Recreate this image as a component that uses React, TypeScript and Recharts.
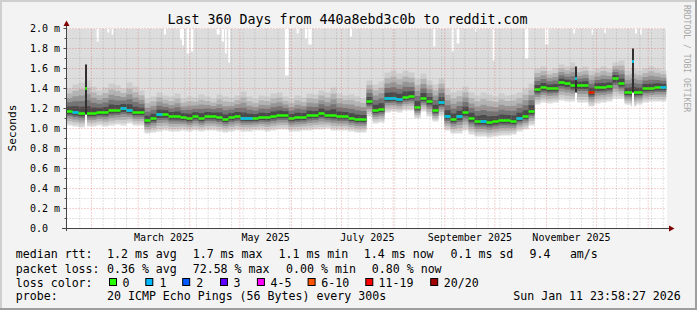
import { Area, ComposedChart, ReferenceLine, XAxis, YAxis } from "recharts";

const FONT = '"DejaVu Sans Mono", monospace';

// one sample every 3.6 days -> 100 samples = 360 days (17 Jan 2025 .. 11 Jan 2026)
const STEP_DAYS = 3.6;

// median rtt per sample (ms)
const medianRtt = [
  1.17, 1.16, 1.15, 1.15, 1.15, 1.16, 1.16, 1.18, 1.18, 1.2,
  1.18, 1.16, 1.16, 1.08, 1.1, 1.14, 1.14, 1.12, 1.12, 1.11,
  1.1, 1.12, 1.1, 1.12, 1.12, 1.11, 1.09, 1.11, 1.12, 1.1,
  1.1, 1.1, 1.11, 1.11, 1.12, 1.13, 1.13, 1.1, 1.11, 1.11,
  1.13, 1.13, 1.15, 1.13, 1.13, 1.12, 1.12, 1.1, 1.09, 1.09,
  1.27, 1.18, 1.19, 1.3, 1.3, 1.29, 1.31, 1.32, 1.21, 1.3,
  1.27, 1.18, 1.26, 1.12, 1.09, 1.12, 1.16, 1.1, 1.07, 1.07,
  1.06, 1.07, 1.08, 1.08, 1.07, 1.1, 1.12, 1.17, 1.39, 1.41,
  1.4, 1.4, 1.46, 1.45, 1.43, 1.43, 1.43, 1.36, 1.41, 1.41,
  1.42, 1.5, 1.45, 1.36, 1.36, 1.36, 1.4, 1.4, 1.41, 1.41,
];

// lower edge of the smoke (fastest ping)
const smokeLow = [
  1.03, 1.02, 1.01, 1.02, 1.02, 1.03, 1.02, 1.03, 1.04, 1.03,
  1.05, 1.03, 1.03, 0.95, 0.96, 0.97, 0.98, 0.97, 0.97, 0.98,
  0.97, 0.98, 0.97, 0.98, 0.98, 0.97, 0.96, 0.97, 0.98, 0.97,
  0.97, 0.98, 0.98, 0.97, 0.98, 0.99, 0.99, 0.97, 0.97, 0.98,
  0.98, 0.99, 0.99, 1.0, 0.98, 0.98, 0.98, 0.97, 0.96, 0.96,
  1.12, 1.05, 1.06, 1.16, 1.17, 1.16, 1.18, 1.18, 1.1, 1.17,
  1.12, 1.07, 1.12, 0.98, 0.95, 0.95, 0.98, 0.94, 0.92, 0.92,
  0.91, 0.92, 0.93, 0.93, 0.94, 0.97, 0.99, 1.03, 1.24, 1.26,
  1.25, 1.26, 1.28, 1.27, 1.27, 1.26, 1.26, 1.22, 1.25, 1.26,
  1.27, 1.3, 1.3, 1.24, 1.22, 1.24, 1.26, 1.27, 1.27, 1.27,
];

// upper edge of the dense smoke
const smokeHigh = [
  1.4, 1.44, 1.46, 1.48, 1.42, 1.38, 1.41, 1.45, 1.43, 1.4,
  1.46, 1.42, 1.38, 1.3, 1.32, 1.36, 1.33, 1.32, 1.35, 1.3,
  1.32, 1.31, 1.34, 1.32, 1.3, 1.34, 1.32, 1.31, 1.33, 1.37,
  1.32, 1.3, 1.33, 1.32, 1.35, 1.36, 1.32, 1.3, 1.33, 1.31,
  1.35, 1.34, 1.38, 1.36, 1.41, 1.35, 1.33, 1.34, 1.32, 1.3,
  1.48, 1.44, 1.47, 1.56, 1.58, 1.55, 1.58, 1.56, 1.5, 1.55,
  1.48, 1.44, 1.5, 1.4, 1.36, 1.38, 1.42, 1.36, 1.33, 1.36,
  1.34, 1.32, 1.35, 1.33, 1.34, 1.36, 1.4, 1.45, 1.6, 1.62,
  1.58, 1.6, 1.64, 1.62, 1.66, 1.6, 1.62, 1.58, 1.6, 1.62,
  1.6, 1.66, 1.68, 1.58, 1.6, 1.58, 1.6, 1.62, 1.6, 1.58,
];

// [sample index, loss level] for samples that lost packets
const lossMarks = [
  [1, 1], [9, 1], [10, 1], [15, 1], [29, 1], [30, 1], [53, 1], [54, 1],
  [55, 1], [62, 1], [63, 1], [65, 1], [69, 1], [75, 1], [87, 6], [99, 1],
];

// short single-sample spikes
const spikes = [
  { day: 11.1, med: 1.4, lo: 1.14, hi: 1.64, loss: 0 },
  { day: 305.1, med: 1.5, lo: 1.36, hi: 1.62, loss: 1 },
  { day: 339.3, med: 1.67, lo: 1.36, hi: 1.8, loss: 1 },
];
const SPIKE_DAYS = 1.2;

// [from day, to day, max ping] where the slowest ping stayed below 2 ms
const maxGaps = [
  [18.1, 19.3, 1.87], [24.5, 25.7, 1.96], [27.1, 28.1, 1.94], [58.5, 59.7, 1.94],
  [68.1, 69.3, 1.89], [69.3, 70.5, 1.83], [72.1, 73.7, 1.75], [74.5, 76.1, 1.77],
  [90.1, 92.1, 1.94], [93.1, 94.5, 1.87], [95.1, 96.1, 1.75], [97.1, 98.1, 1.66],
  [131.1, 133.3, 1.53], [138.1, 139.3, 1.95], [143.1, 144.5, 1.9], [145.1, 147.1, 1.84],
  [170.1, 171.3, 1.92], [220.1, 221.3, 1.82], [231.1, 232.5, 1.77], [234.1, 235.7, 1.85],
  [245.1, 246.1, 1.97], [255.7, 256.9, 1.68], [275.1, 277.1, 1.7], [287.1, 289.1, 1.84],
  [304.1, 305.1, 1.95], [315.1, 316.1, 1.94], [322.5, 323.7, 1.95], [341.1, 342.3, 1.95],
  [344.1, 345.1, 1.94],
];

// days since 17 Jan 2025
const monthStarts = [15, 43, 74, 104, 135, 165, 196, 227, 257, 288, 318, 349];
const monthLabelDays = [58.5, 119.5, 180.5, 242, 303];
const monthLabels = ["March 2025", "May 2025", "July 2025", "September 2025", "November 2025"];

const lossColors = ["#26ff00", "#00b8ff", "#0059ff", "#5e00ff", "#ff00ff", "#ff5500", "#ff0000", "#a10000"];
const lossNames = ["0", "1", "2", "3", "4-5", "6-10", "11-19", "20/20"];

const rttStats = ["1.2 ms avg", "1.7 ms max", "1.1 ms min", "1.4 ms now", "0.1 ms sd", "9.4", "am/s"];
const lossStats = ["0.36 % avg", "72.58 % max", "0.00 % min", "0.80 % now"];

const TOP = 2.0;
const HALF_LINE = 0.0125; // median drawn as a thin stripe, no vertical joins
const FU = [1, 0.78, 0.58, 0.4, 0.22];
const FD = [0.85, 0.68, 0.5, 0.33, 0.2];
const SMOKE = ["#cdcdcd", "#b4b4b4", "#969696", "#747474", "#4a4a4a"];

function buildRows() {
  const n = medianRtt.length;
  const eps = 1e-6;
  const lossAt = medianRtt.map(() => 0);
  lossMarks.forEach(([i, l]) => (lossAt[i] = l));

  const set = new Set<number>();
  for (let i = 0; i <= n; i++) set.add(Math.round(i * STEP_DAYS * 1000) / 1000);
  spikes.forEach((s) => {
    set.add(s.day);
    set.add(Math.round((s.day + SPIKE_DAYS) * 1000) / 1000);
  });
  maxGaps.forEach(([a, b]) => {
    set.add(a);
    set.add(b);
  });
  const days = Array.from(set).sort((a, b) => a - b);

  const rows = days.map((day) => {
    const i = Math.min(n - 1, Math.floor(day / STEP_DAYS + eps));
    let med = medianRtt[i];
    let lo = smokeLow[i];
    let hi = smokeHigh[i];
    let loss = lossAt[i];
    const row: Record<string, any> = { day };
    const sp = spikes.find((s) => day >= s.day - eps && day <= s.day + SPIKE_DAYS + eps);
    if (sp) {
      row.core = [sp.lo, sp.hi];
      if (day < sp.day + SPIKE_DAYS - eps) {
        med = sp.med;
        lo = sp.lo;
        hi = sp.hi;
        loss = sp.loss;
      }
    }
    const gap = maxGaps.find(([a, b]) => day >= a - eps && day < b - eps);
    row.b0 = [lo, gap ? gap[2] : TOP];
    FU.forEach((fu, k) => {
      row[`b${k + 1}`] = [med - FD[k] * (med - lo), med + fu * (hi - med)];
    });
    row.med = [med - HALF_LINE, med + HALF_LINE];
    row.loss = loss;
    return row;
  });

  rows.forEach((r, k) => {
    if (r.loss > 0) {
      r[`c${r.loss}`] = r.med;
      const nx = rows[k + 1];
      if (nx && nx.loss !== r.loss) nx[`c${r.loss}`] = r.med;
    }
  });
  return rows;
}

const rows = buildRows();

const weekDays: number[] = [];
for (let d = 8; d < 360; d += 7) if (!monthStarts.includes(d)) weekDays.push(d);
const yMinor = [0.1, 0.3, 0.5, 0.7, 0.9, 1.1, 1.3, 1.5, 1.7, 1.9];
const yMajor = [0.2, 0.4, 0.6, 0.8, 1.0, 1.2, 1.4, 1.6, 1.8, 2.0];
const yTicks = [0, 0.1, 0.2, 0.3, 0.4, 0.5, 0.6, 0.7, 0.8, 0.9, 1, 1.1, 1.2, 1.3, 1.4, 1.5, 1.6, 1.7, 1.8, 1.9, 2];

function XTick({ x, y, payload }: any) {
  const idx = monthLabelDays.indexOf(payload.value);
  return (
    <text x={x} y={y + 12.5} textAnchor="middle" fontFamily={FONT} fontSize={10} fill="#000">
      {monthLabels[idx]}
    </text>
  );
}

function YTick({ x, y, payload }: any) {
  const tenth = Math.round(payload.value * 10);
  const major = tenth % 2 === 0;
  return (
    <g>
      <line x1={x - (major ? 3 : 2)} x2={x} y1={y} y2={y} stroke="#555" />
      {major && (
        <text x={30} y={y + 3.8} fontFamily={FONT} fontSize={10} fill="#000">
          {tenth === 0 ? "0.0" : `${(tenth / 10).toFixed(1)} m`}
        </text>
      )}
    </g>
  );
}

const areaProps = {
  type: "stepAfter" as const,
  stroke: "none",
  fillOpacity: 1,
  dot: false,
  activeDot: false,
  connectNulls: false,
  isAnimationActive: false,
};

const minorGrid = { stroke: "#8f8f8f", strokeOpacity: 0.5, strokeDasharray: "1 2" };
const majorGrid = { stroke: "#de5050", strokeOpacity: 0.5, strokeDasharray: "1 2" };

export default function App() {
  const txt = { fontFamily: FONT, fontSize: 11.6, fill: "#000" };
  const rttX = [107, 192.7, 278.5, 363.8, 450.5, 529.6, 569.9];
  const lossX = [107, 192.7, 286.1, 371.8];
  const boxX = [109, 145.3, 182.2, 220, 256.9, 307.6, 365.3, 430.2];
  const nameX = [122.5, 159.4, 196.3, 233.6, 270.5, 321.2, 378.5, 443.8];

  return (
    <div style={{ position: "absolute", left: 0, top: 0, width: 697, height: 310, background: "#f3f3f3" }}>
      <div style={{ position: "absolute", left: 66, top: 28, width: 601, height: 201, background: "#fff" }} />
      <div style={{ position: "absolute", left: 0, top: 0 }}>
        <ComposedChart
          width={697}
          height={310}
          data={rows}
          margin={{ top: 28.5, right: 30.5, bottom: 0, left: 0 }}
        >
          <XAxis
            type="number"
            dataKey="day"
            domain={[0, 360]}
            ticks={monthLabelDays}
            tick={<XTick />}
            interval={0}
            axisLine={false}
            tickLine={false}
            tickSize={0}
            tickMargin={0}
            height={81.5}
            allowDataOverflow
          />
          <YAxis
            type="number"
            domain={[0, 2]}
            ticks={yTicks}
            tick={<YTick />}
            interval={0}
            axisLine={false}
            tickLine={false}
            tickSize={0}
            tickMargin={0}
            width={66.5}
            allowDataOverflow
          />
          <Area dataKey="b0" fill="#dddddd" {...areaProps} />
          {SMOKE.map((c, k) => (
            <Area key={c} dataKey={`b${k + 1}`} fill={c} {...areaProps} />
          ))}
          <Area dataKey="core" fill="#303030" {...areaProps} />
          {weekDays.map((d) => (
            <ReferenceLine key={`w${d}`} x={d} {...minorGrid} />
          ))}
          {yMinor.map((v) => (
            <ReferenceLine key={`ym${v}`} y={v} {...minorGrid} />
          ))}
          {monthStarts.map((d) => (
            <ReferenceLine key={`m${d}`} x={d} {...majorGrid} />
          ))}
          {yMajor.map((v) => (
            <ReferenceLine key={`yM${v}`} y={v} {...majorGrid} />
          ))}
          <Area dataKey="med" fill={lossColors[0]} {...areaProps} />
          {lossColors.slice(1).map((c, k) => (
            <Area key={c} dataKey={`c${k + 1}`} fill={c} {...areaProps} />
          ))}
        </ComposedChart>
      </div>
      <svg
        width={697}
        height={310}
        style={{ position: "absolute", left: 0, top: 0, pointerEvents: "none" }}
      >
        <line x1={0} y1={1} x2={697} y2={1} stroke="#cfcfcf" strokeWidth={2} />
        <line x1={1} y1={0} x2={1} y2={310} stroke="#cfcfcf" strokeWidth={2} />
        <line x1={0} y1={309} x2={697} y2={309} stroke="#9e9e9e" strokeWidth={2} />
        <line x1={696} y1={0} x2={696} y2={310} stroke="#9e9e9e" strokeWidth={2} />

        <line x1={66.5} y1={25} x2={66.5} y2={231} stroke="#444" />
        <line x1={62} y1={228.5} x2={670} y2={228.5} stroke="#444" />
        <polygon points="63.5,26 69.5,26 66.5,20.5" fill="#7f0000" />
        <polygon points="669,225.5 669,231.5 674.5,228.5" fill="#7f0000" />

        <text x={347.5} y={24} textAnchor="middle" fontFamily={FONT} fontSize={13.3} fill="#000">
          Last 360 Days from 440a8ebd3c0b to reddit.com
        </text>
        <text
          transform="translate(15.5,128) rotate(-90)"
          textAnchor="middle"
          fontFamily={FONT}
          fontSize={11.2}
          fill="#000"
        >
          Seconds
        </text>
        <text
          transform="translate(683.5,5) rotate(90)"
          fontFamily={FONT}
          fontSize={8.1}
          fill="#a8a8a8"
        >
          RRDTOOL / TOBI OETIKER
        </text>

        <text x={15.8} y={258.3} {...txt}>median rtt:</text>
        {rttStats.map((s, k) => (
          <text key={s} x={rttX[k]} y={258.3} {...txt}>{s}</text>
        ))}
        <text x={15.8} y={272.5} {...txt}>packet loss:</text>
        {lossStats.map((s, k) => (
          <text key={s} x={lossX[k]} y={272.5} {...txt}>{s}</text>
        ))}
        <text x={15.8} y={286.5} {...txt}>loss color:</text>
        {lossColors.map((c, k) => (
          <g key={c}>
            <rect x={boxX[k] + 0.5} y={278.5} width={7} height={7} fill={c} stroke="#000" />
            <text x={nameX[k]} y={286.5} {...txt}>{lossNames[k]}</text>
          </g>
        ))}
        <text x={15.8} y={300.3} {...txt}>probe:</text>
        <text x={107} y={300.3} {...txt}>20 ICMP Echo Pings (56 Bytes) every 300s</text>
        <text x={680.8} y={300.3} textAnchor="end" {...txt}>Sun Jan 11 23:58:27 2026</text>
      </svg>
    </div>
  );
}
